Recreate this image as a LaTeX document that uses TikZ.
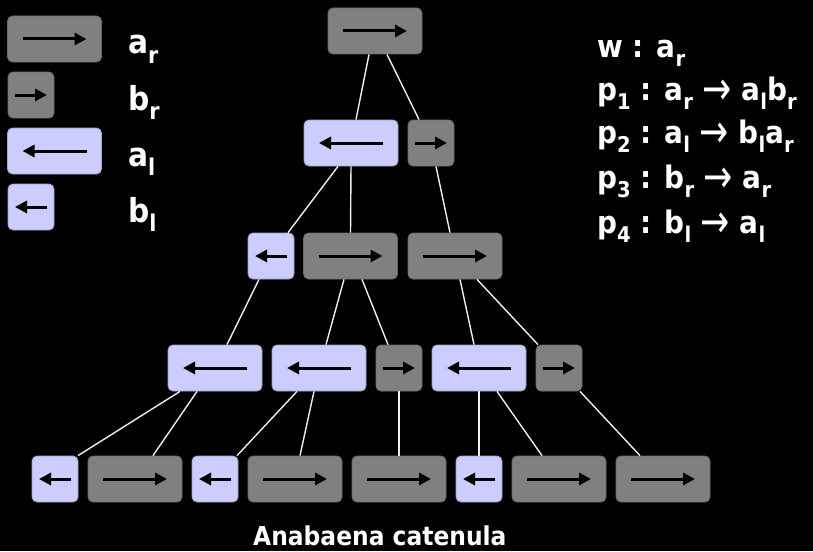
\documentclass[tikz,border=0pt]{standalone}
\usepackage{fontspec}
\setmainfont{DejaVu Sans Condensed}
\usepackage{graphicx}
\usetikzlibrary{arrows.meta}

\definecolor{cellgray}{HTML}{808080}
\definecolor{cellgrayedge}{HTML}{6E6E6E}
\definecolor{cellblue}{HTML}{CCCCFF}
\definecolor{cellblueedge}{HTML}{A4A4C8}
\definecolor{linkwhite}{HTML}{EEEEEE}

% lowered, reduced subscript in the running text font
\newcommand\sub[1]{\raisebox{-0.3em}{\scalebox{0.7}{#1}}}
% production arrow, stretched towards the letter height
\newcommand\goes{\smash{\raisebox{-0.13em}{\scalebox{1.25}[1.5]{\mdseries →}}}}

\begin{document}
\begin{tikzpicture}[x=1pt, y=-1pt,
  cell/.style={rectangle, rounded corners=5pt, minimum height=46pt,
               inner sep=0pt, line width=0.8pt},
  long/.style={cell, minimum width=94pt},
  short/.style={cell, minimum width=46pt},
  rgt/.style={fill=cellgray, draw=cellgrayedge},
  lft/.style={fill=cellblue, draw=cellblueedge},
  ar/.style={long, rgt},
  br/.style={short, rgt},
  al/.style={long, lft},
  bl/.style={short, lft},
  dir/.style={line width=3pt, -{Triangle[length=12pt,width=12pt]}},
  link/.style={draw=linkwhite, line width=1.4pt},
  txt/.style={anchor=base west, text=white, inner sep=0pt,
              font=\bfseries\fontsize{33}{36}\selectfont},
  rule/.style={anchor=base west, text=white, inner sep=0pt,
               font=\bfseries\fontsize{31}{34}\selectfont},
]
\fill[black] (0,0) rectangle (813,551);
\useasboundingbox (0,0) rectangle (813,551);

% legend
\node[ar] (LA) at (54.5,39) {};
\node[br] (LB) at (31,95) {};
\node[al] (LC) at (54.5,151) {};
\node[bl] (LD) at (31,207) {};
\node[txt] (tLA) at (128,54) {a\sub{r}};
\node[txt] (tLB) at (128,110) {b\sub{r}};
\node[txt] (tLC) at (128,166) {a\sub{l}};
\node[txt] (tLD) at (128,222) {b\sub{l}};

% productions
\node[rule] (w)  at (597,57)  {w : a\sub{r}};
\node[rule] (p1) at (597,100) {p\sub{1} : a\sub{r} \goes{} a\sub{l}b\sub{r}};
\node[rule] (p2) at (597,143) {p\sub{2} : a\sub{l} \goes{} b\sub{l}a\sub{r}};
\node[rule] (p3) at (597,188) {p\sub{3} : b\sub{r} \goes{} a\sub{r}};
\node[rule] (p4) at (597,233) {p\sub{4} : b\sub{l} \goes{} a\sub{l}};

% derivation tree
\node[ar] (T) at (375,31) {};

\node[al] (L1a) at (351,143) {};
\node[br] (L1b) at (431,143) {};

\node[bl] (L2a) at (271,256) {};
\node[ar] (L2b) at (350.5,256) {};
\node[ar] (L2c) at (455,256) {};

\node[al] (L3a) at (215,368) {};
\node[al] (L3b) at (319,368) {};
\node[br] (L3c) at (399,368) {};
\node[al] (L3d) at (479,368) {};
\node[br] (L3e) at (559,368) {};

\node[bl] (L4a) at (55,479) {};
\node[ar] (L4b) at (135,479) {};
\node[bl] (L4c) at (215,479) {};
\node[ar] (L4d) at (295,479) {};
\node[ar] (L4e) at (399,479) {};
\node[bl] (L4f) at (479,479) {};
\node[ar] (L4g) at (559,479) {};
\node[ar] (L4h) at (663,479) {};

% cell polarity arrows
\foreach \n in {LA,T,L2b,L2c,L4b,L4d,L4e,L4g,L4h}
  \draw[dir] ([xshift=-32pt]\n.center) -- ([xshift=32pt]\n.center);
\foreach \n in {LC,L1a,L3a,L3b,L3d}
  \draw[dir] ([xshift=32pt]\n.center) -- ([xshift=-32pt]\n.center);
\foreach \n in {LB,L1b,L3c,L3e}
  \draw[dir] ([xshift=-16pt]\n.center) -- ([xshift=16pt]\n.center);
\foreach \n in {LD,L2a,L4a,L4c,L4f}
  \draw[dir] ([xshift=16pt]\n.center) -- ([xshift=-16pt]\n.center);

% lineage links
\draw[link] ([xshift=-6pt]T.south)    -- ([xshift=5pt]L1a.north);
\draw[link] ([xshift=12pt]T.south)    -- ([xshift=-12pt]L1b.north);
\draw[link] ([xshift=-13pt]L1a.south) -- ([xshift=17pt]L2a.north);
\draw[link] (L1a.south)               -- (L2b.north);
\draw[link] ([xshift=5pt]L1b.south)   -- ([xshift=-5pt]L2c.north);
\draw[link] ([xshift=-12pt]L2a.south) -- ([xshift=12pt]L3a.north);
\draw[link] ([xshift=-6.5pt]L2b.south) -- ([xshift=7pt]L3b.north);
\draw[link] ([xshift=11.5pt]L2b.south) -- ([xshift=-11pt]L3c.north);
\draw[link] ([xshift=5pt]L2c.south)   -- ([xshift=-5pt]L3d.north);
\draw[link] ([xshift=22pt]L2c.south)  -- ([xshift=-21pt]L3e.north);
\draw[link] ([xshift=-35pt]L3a.south) -- ([xshift=23pt]L4a.north);
\draw[link] ([xshift=-18pt]L3a.south) -- ([xshift=18pt]L4b.north);
\draw[link] ([xshift=-22pt]L3b.south) -- ([xshift=22pt]L4c.north);
\draw[link] ([xshift=-5pt]L3b.south)  -- ([xshift=5pt]L4d.north);
\draw[link] (L3c.south)               -- (L4e.north);
\draw[link] (L3d.south)               -- (L4f.north);
\draw[link] ([xshift=18pt]L3d.south)  -- ([xshift=-17pt]L4g.north);
\draw[link] ([xshift=21pt]L3e.south)  -- ([xshift=-23pt]L4h.north);

% caption
\node[anchor=base west, text=white, inner sep=0pt,
      font=\bfseries\fontsize{26}{30}\selectfont] (cap) at (253,545) {Anabaena catenula};
\end{tikzpicture}
\end{document}
